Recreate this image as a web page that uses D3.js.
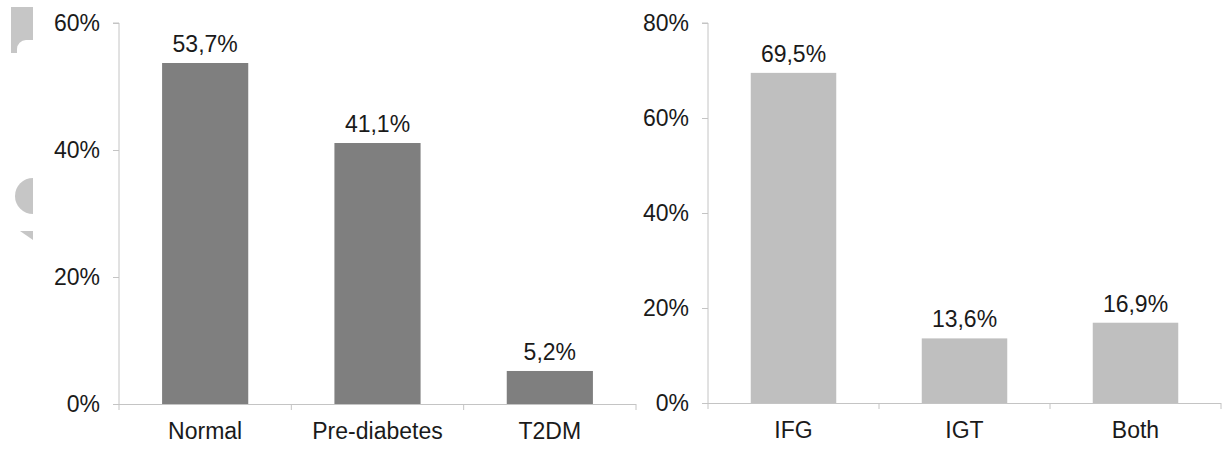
<!DOCTYPE html>
<html><head><meta charset="utf-8">
<script src="https://cdn.jsdelivr.net/npm/d3@7"></script>
<style>
body{margin:0;background:#fff;}
svg{display:block;font-family:"Liberation Sans",Arial,sans-serif;}
</style></head>
<body>
<svg id="c" width="1227" height="455"></svg>
<script>
const categoriesA = ["Normal", "Pre-diabetes", "T2DM"];
const valuesA = [53.7, 41.1, 5.2];
const labelsA = ["53,7%", "41,1%", "5,2%"];
const ticksA = [0, 20, 40, 60];

const categoriesB = ["IFG", "IGT", "Both"];
const valuesB = [69.5, 13.6, 16.9];
const labelsB = ["69,5%", "13,6%", "16,9%"];
const ticksB = [0, 20, 40, 60, 80];

const svg = d3.select("#c");
const FS = "23px";

// faint decorative shapes at far left (watermark fragments)
const deco = svg.append("g").attr("fill", "#c6c6c6");
deco.append("path").attr("d", "M11,7 H33 V40 H26 A9,9 0 0 0 17,49 V53 H11 Z");
deco.append("path").attr("d", "M33,178 A18,18 0 0 0 33,214 Z");
deco.append("path").attr("d", "M20,231 H33 V240 Z");

function panel(opts) {
  const {x0, x1, y0, y1, max, cats, vals, labels, ticks, color} = opts;
  const g = svg.append("g");
  const x = d3.scaleBand().domain(cats).range([x0, x1]).paddingInner(0.5).paddingOuter(0.25);
  const y = d3.scaleLinear().domain([0, max]).range([y0, y1]);

  const yAxis = d3.axisLeft(y).tickValues(ticks).tickFormat(d => d + "%").tickSize(6).tickPadding(13);
  const ya = g.append("g").attr("transform", `translate(${x0},0)`).call(yAxis);
  ya.select(".domain").attr("stroke", "#c4c4c4").attr("d", `M-6,${y1}H0V${y0}`);
  ya.selectAll(".tick line").attr("stroke", "#c4c4c4");
  ya.selectAll(".tick text").attr("fill", "#1a1a1a").style("font-size", FS).style("font-family", "Liberation Sans, Arial, sans-serif");

  g.selectAll("rect.bar").data(vals).join("rect").attr("class", "bar")
    .attr("x", (d, i) => x(cats[i]))
    .attr("width", x.bandwidth())
    .attr("y", d => y(d))
    .attr("height", d => y(0) - y(d))
    .attr("fill", color);

  const xa = g.append("g");
  xa.append("line").attr("x1", x0).attr("x2", x1).attr("y1", y0 + 0.5).attr("y2", y0 + 0.5).attr("stroke", "#c4c4c4");
  const bounds = d3.range(cats.length + 1).map(i => x0 + i * (x1 - x0) / cats.length);
  xa.selectAll("line.t").data(bounds).join("line").attr("class", "t")
    .attr("x1", d => d).attr("x2", d => d).attr("y1", y0).attr("y2", y0 + 6).attr("stroke", "#c4c4c4");

  g.selectAll("text.cat").data(cats).join("text").attr("class", "cat")
    .attr("x", d => x(d) + x.bandwidth() / 2).attr("y", y0 + 35)
    .attr("text-anchor", "middle").attr("fill", "#1a1a1a").style("font-size", FS).text(d => d);

  g.selectAll("text.val").data(vals).join("text").attr("class", "val")
    .attr("x", (d, i) => x(cats[i]) + x.bandwidth() / 2).attr("y", d => y(d) - 11)
    .attr("text-anchor", "middle").attr("fill", "#1a1a1a").style("font-size", FS)
    .text((d, i) => labels[i]);
}

panel({x0: 119, x1: 636, y0: 404, y1: 23, max: 60, cats: categoriesA, vals: valuesA, labels: labelsA, ticks: ticksA, color: "#7f7f7f"});
panel({x0: 708, x1: 1221, y0: 403, y1: 23, max: 80, cats: categoriesB, vals: valuesB, labels: labelsB, ticks: ticksB, color: "#bfbfbf"});
</script>
</body></html>
